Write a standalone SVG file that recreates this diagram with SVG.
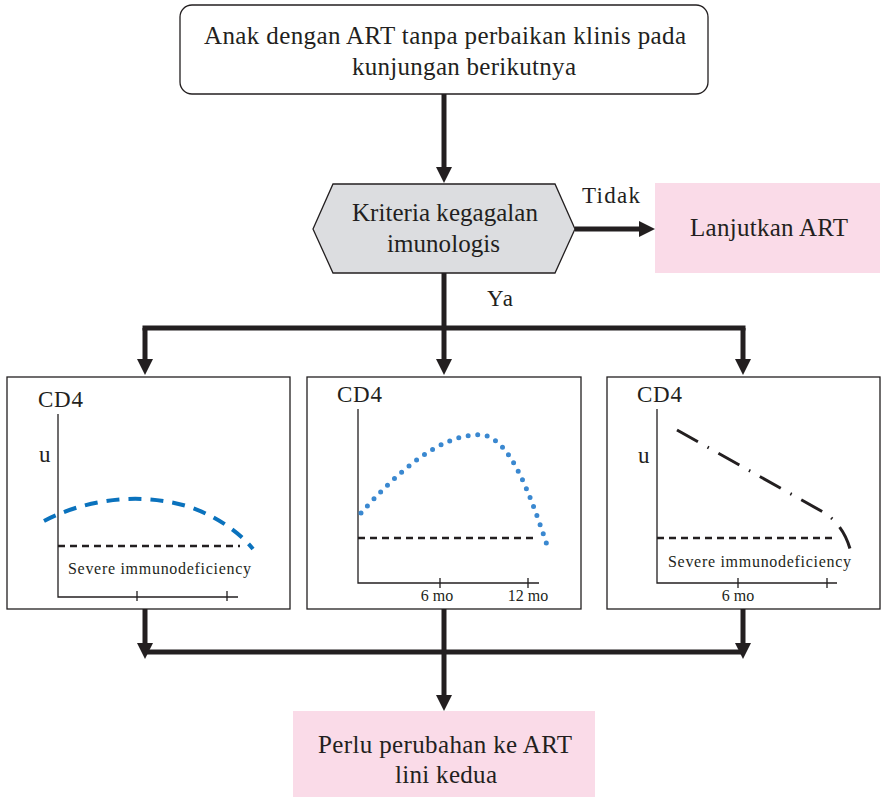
<svg xmlns="http://www.w3.org/2000/svg" width="882" height="799" viewBox="0 0 882 799">
  <style>
    .t { font-family: "Liberation Serif", "DejaVu Serif", serif; fill: #231f20; }
    .lg { font-size: 25px; }
    .md { font-size: 23px; }
    .sm { font-size: 16px; }
    .conn { fill: none; stroke: #231f20; stroke-width: 5; }
    .panel { fill: #ffffff; stroke: #231f20; stroke-width: 1.3; }
    .axis { fill: none; stroke: #231f20; stroke-width: 1.3; }
    .thr { fill: none; stroke: #231f20; stroke-width: 2.5; stroke-dasharray: 7 5; }
    .pink { fill: #fadbe8; }
  </style>
  <defs>
    <marker id="arrow" markerUnits="userSpaceOnUse" viewBox="0 0 16 16" markerWidth="16" markerHeight="16" refX="3" refY="8" orient="auto">
      <path d="M0,0 L16,8 L0,16 z" fill="#231f20"/>
    </marker>
  </defs>

  <!-- connectors -->
  <g id="connectors">
    <path class="conn" d="M444,94 V170" marker-end="url(#arrow)"/>
    <path class="conn" d="M575,229 H642" marker-end="url(#arrow)"/>
    <path class="conn" d="M444,273 V328"/>
    <path class="conn" d="M142.5,328 H745.5"/>
    <path class="conn" d="M145,328 V362" marker-end="url(#arrow)"/>
    <path class="conn" d="M444,328 V362" marker-end="url(#arrow)"/>
    <path class="conn" d="M743,328 V362" marker-end="url(#arrow)"/>
    <path class="conn" d="M145,609 V646" marker-end="url(#arrow)"/>
    <path class="conn" d="M743,609 V646" marker-end="url(#arrow)"/>
    <path class="conn" d="M145,652 H743"/>
    <path class="conn" d="M444,609 V698" marker-end="url(#arrow)"/>
    <text class="t md" x="582" y="203" textLength="58">Tidak</text>
    <text class="t md" x="487" y="306" textLength="26">Ya</text>
  </g>

  <!-- start node -->
  <g id="start">
    <rect x="180" y="5" width="528" height="89" rx="12" fill="#ffffff" stroke="#231f20" stroke-width="1.3"/>
    <text class="t lg" x="204" y="44" textLength="482">Anak dengan ART tanpa perbaikan klinis pada</text>
    <text class="t lg" x="352" y="75" textLength="224">kunjungan berikutnya</text>
  </g>

  <!-- decision node -->
  <g id="decision">
    <polygon points="313,229 333,184 555,184 575,229 555,273 333,273" fill="#dcdde0" stroke="#231f20" stroke-width="1.3"/>
    <text class="t lg" x="352" y="221" textLength="186">Kriteria kegagalan</text>
    <text class="t lg" x="387" y="252" textLength="113">imunologis</text>
  </g>

  <!-- continue node -->
  <g id="continue">
    <rect class="pink" x="655" y="183" width="225" height="90"/>
    <text class="t lg" x="690" y="236" textLength="158">Lanjutkan ART</text>
  </g>

  <!-- panel 1: dashed blue curve -->
  <g id="panel1">
    <rect class="panel" x="7" y="377" width="283" height="232"/>
    <text class="t md" x="38" y="407" textLength="45">CD4</text>
    <text class="t md" x="39" y="462">u</text>
    <path class="axis" d="M58,414 V597 H238 M137,591 V601 M227,591 V601"/>
    <path class="thr" d="M58,546 H240"/>
    <path d="M44,521 C80,502 135,490 190,507 C218,517 240,533 253,549" fill="none" stroke="#0a72bd" stroke-width="4" stroke-dasharray="13 9"/>
    <text class="t sm" x="68" y="574" textLength="183">Severe immunodeficiency</text>
  </g>

  <!-- panel 2: dotted blue curve -->
  <g id="panel2">
    <rect class="panel" x="307" y="377" width="274" height="232"/>
    <text class="t md" x="337" y="402" textLength="45">CD4</text>
    <path class="axis" d="M358,409 V583 H539 M440,578 V588 M528,578 V588"/>
    <path class="thr" d="M358,538 H538"/>
    <path d="M361,513 C395,475 440,432 483,435 C512,440 532,500 549,551" fill="none" stroke="#3a88d0" stroke-width="5" stroke-linecap="round" stroke-dasharray="0 9.6"/>
    <text class="t sm" x="437" y="601" text-anchor="middle">6 mo</text>
    <text class="t sm" x="528" y="601" text-anchor="middle">12 mo</text>
  </g>

  <!-- panel 3: dash-dot black curve -->
  <g id="panel3">
    <rect class="panel" x="607" y="377" width="273" height="232"/>
    <text class="t md" x="637" y="402" textLength="45">CD4</text>
    <text class="t md" x="638" y="463">u</text>
    <path class="axis" d="M657,409 V583 H837 M738,578 V588 M827,578 V588"/>
    <path class="thr" d="M657,538 H837"/>
    <path d="M677,430 L823,512 Q846,526 852,557" fill="none" stroke="#231f20" stroke-width="3" stroke-dasharray="24 11 1.5 11"/>
    <text class="t sm" x="668" y="567" textLength="183">Severe immunodeficiency</text>
    <text class="t sm" x="738" y="601" text-anchor="middle">6 mo</text>
  </g>

  <!-- outcome node -->
  <g id="outcome">
    <rect class="pink" x="293" y="711" width="302" height="86"/>
    <text class="t lg" x="318" y="753" textLength="254">Perlu perubahan ke ART</text>
    <text class="t lg" x="395" y="783" textLength="102">lini kedua</text>
  </g>
</svg>
